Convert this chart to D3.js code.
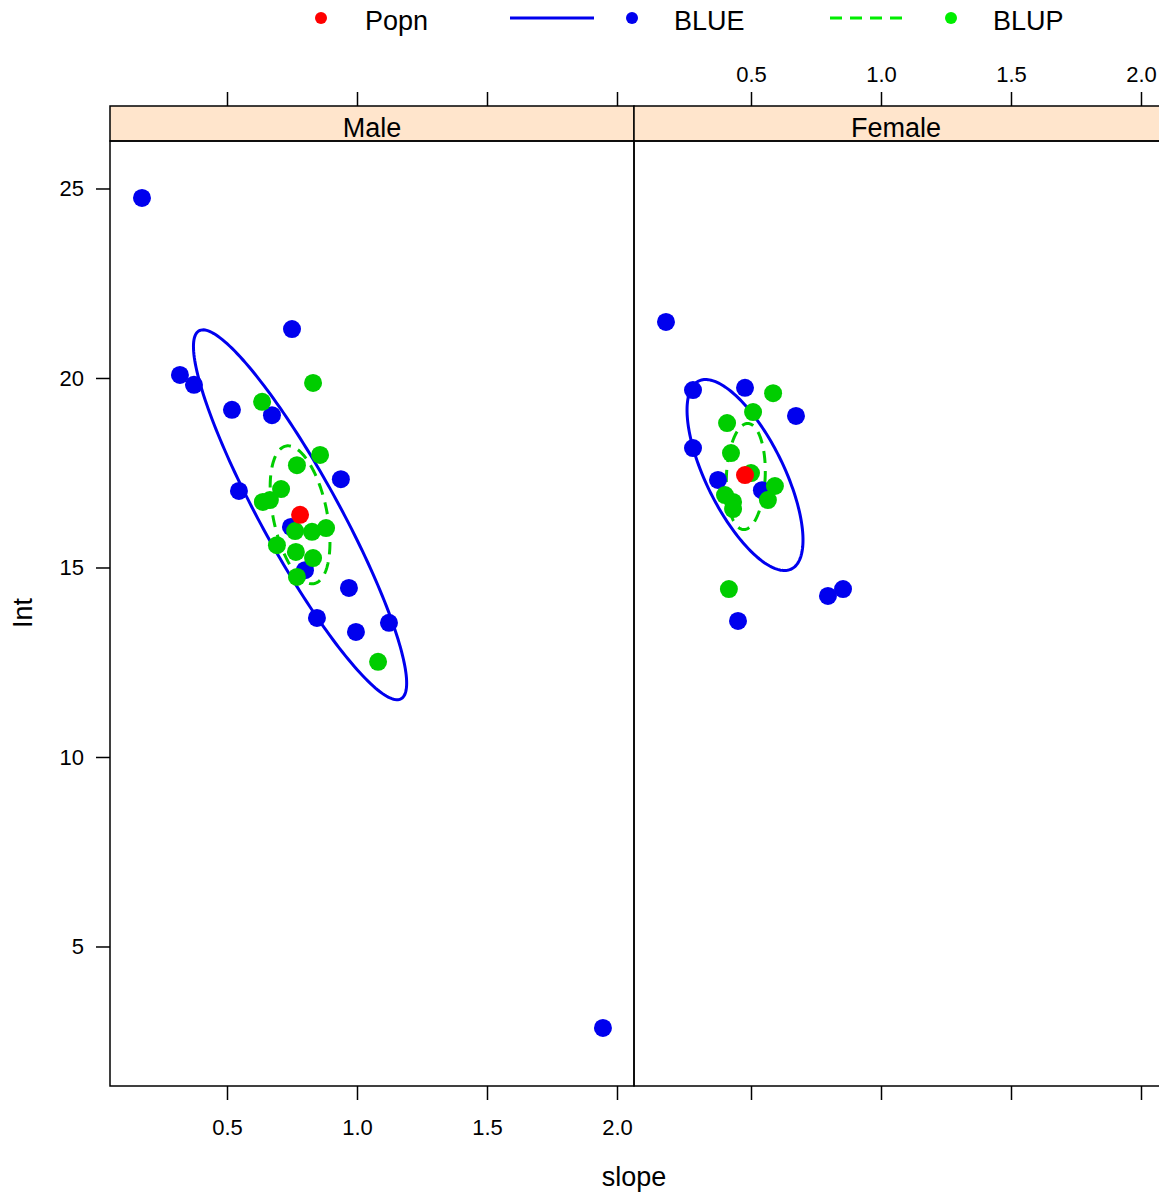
<!DOCTYPE html>
<html><head><meta charset="utf-8">
<script src="https://cdn.jsdelivr.net/npm/d3@7"></script>
<style>
html,body{margin:0;padding:0;background:#fff;overflow:hidden;}
svg{display:block;font-family:"Liberation Sans",Arial,sans-serif;}
</style></head>
<body>
<script>
// ---------------- data ----------------
const panels = ["Male", "Female"];
const xTicks = [0.5, 1.0, 1.5, 2.0];
const yTicks = [5, 10, 15, 20, 25];
const legendLabels = ["Popn", "BLUE", "BLUP"];

// [slope, Int]
const maleBLUE = [[0.173,24.75],[0.319,20.08],[0.373,19.82],[0.519,19.16],[0.673,19.02],
  [0.750,21.29],[0.546,17.02],[0.938,17.33],[0.746,16.07],[0.800,14.93],[0.969,14.46],
  [0.846,13.67],[0.996,13.30],[1.123,13.54],[1.946,2.85]];
const maleBLUP = [[0.635,19.37],[0.831,19.87],[0.858,17.97],[0.769,17.70],[0.708,17.07],
  [0.638,16.73],[0.665,16.78],[0.762,15.96],[0.827,15.94],[0.881,16.04],[0.692,15.59],
  [0.765,15.41],[0.831,15.25],[0.769,14.75],[1.081,12.51]];
const femaleBLUE = [[0.173,21.48],[0.277,19.68],[0.477,19.74],[0.673,19.00],[0.277,18.15],
  [0.373,17.31],[0.542,17.04],[0.796,14.25],[0.854,14.43],[0.450,13.59]];
const femaleBLUP = [[0.585,19.60],[0.508,19.10],[0.408,18.81],[0.423,18.02],[0.500,17.49],
  [0.592,17.15],[0.565,16.78],[0.400,16.91],[0.431,16.73],[0.431,16.54],[0.415,14.43]];
const popn = [[0.781,16.39],[0.477,17.44]];

// ellipse parameters: centre, half-extent in slope, half-extent in Int, correlation
const ellipseBLUE = [{cx:0.781,cy:16.39,hx:0.410,hy:4.88,rho:-0.91},
                     {cx:0.477,cy:17.44,hx:0.223,hy:2.52,rho:-0.68}];
const ellipseBLUP = [{cx:0.781,cy:16.39,hx:0.115,hy:1.82,rho:-0.40},
                     {cx:0.480,cy:17.40,hx:0.075,hy:1.40,rho:0.10}];

// ---------------- layout ----------------
const W = 1159, H = 1192;
const colRed = "#ff0000", colBlue = "#0000ee", colGreen = "#00cd00";
const panelW = 524, panelTop = 141, panelBot = 1086, stripTop = 106;
const panelX0 = [110, 634];
const boxW = [524, 530]; // right panel border lies just outside the picture

const svg = d3.select("body").append("svg").attr("width", W).attr("height", H);

const x = d3.scaleLinear().domain([0.05, 2.0654]).range([0, panelW]);
const y = d3.scaleLinear().domain([1.319, 26.253]).range([panelBot, panelTop]);
const fmt = d3.format(".1f");

function ellipsePts(e) {
  const d = Math.acos(e.rho), pts = [];
  for (let i = 0; i <= 200; i++) {
    const t = 2 * Math.PI * i / 200;
    pts.push([e.cx + e.hx * Math.cos(t), e.cy + e.hy * Math.cos(t + d)]);
  }
  return pts;
}

const blueSets = [maleBLUE, femaleBLUE], blupSets = [maleBLUP, femaleBLUP];

panels.forEach((name, i) => {
  const g = svg.append("g").attr("transform", `translate(${panelX0[i]},0)`);
  // strip
  g.append("rect").attr("x", 0).attr("y", stripTop).attr("width", boxW[i])
    .attr("height", panelTop - stripTop).attr("fill", "#ffe5cc")
    .attr("stroke", "#000").attr("stroke-width", 1.5);
  g.append("text").attr("x", panelW / 2).attr("y", 137).attr("text-anchor", "middle")
    .attr("font-size", 27).text(name);

  // clip
  const cid = "clip" + i;
  svg.append("clipPath").attr("id", cid).append("rect")
    .attr("x", 0).attr("y", panelTop).attr("width", boxW[i]).attr("height", panelBot - panelTop);
  const pg = g.append("g").attr("clip-path", `url(#${cid})`);

  const line = d3.line().x(d => x(d[0])).y(d => y(d[1])).curve(d3.curveLinearClosed);
  pg.append("path").attr("d", line(ellipsePts(ellipseBLUE[i])))
    .attr("fill", "none").attr("stroke", colBlue).attr("stroke-width", 3);
  pg.append("path").attr("d", line(ellipsePts(ellipseBLUP[i])))
    .attr("fill", "none").attr("stroke", colGreen).attr("stroke-width", 3)
    .attr("stroke-dasharray", "12,8");

  pg.selectAll(".blue").data(blueSets[i]).enter().append("circle")
    .attr("cx", d => x(d[0])).attr("cy", d => y(d[1])).attr("r", 9).attr("fill", colBlue);
  pg.selectAll(".blup").data(blupSets[i]).enter().append("circle")
    .attr("cx", d => x(d[0])).attr("cy", d => y(d[1])).attr("r", 9).attr("fill", colGreen);
  pg.append("circle").attr("cx", x(popn[i][0])).attr("cy", y(popn[i][1])).attr("r", 9)
    .attr("fill", colRed);

  // panel box
  g.append("rect").attr("x", 0).attr("y", panelTop).attr("width", boxW[i])
    .attr("height", panelBot - panelTop).attr("fill", "none")
    .attr("stroke", "#000").attr("stroke-width", 1.5);

  // bottom axis
  const bottom = d3.axisBottom(x).tickValues(xTicks).tickSize(14).tickPadding(19)
    .tickFormat(i === 0 ? fmt : () => "");
  const ba = g.append("g").attr("transform", `translate(0,${panelBot})`).call(bottom);
  // top axis
  const top = d3.axisTop(x).tickValues(xTicks).tickSize(14).tickPadding(10)
    .tickFormat(i === 1 ? fmt : () => "");
  const ta = g.append("g").attr("transform", `translate(0,${stripTop})`).call(top);
  [ba, ta].forEach(a => {
    a.select(".domain").remove();
    a.selectAll("line").attr("stroke", "#000").attr("stroke-width", 1.5);
    a.selectAll("text").attr("font-size", 22).attr("font-family", "Liberation Sans, Arial, sans-serif")
      .attr("fill", "#000");
  });
});

// left axis
const la = svg.append("g").attr("transform", `translate(${panelX0[0]},0)`)
  .call(d3.axisLeft(y).tickValues(yTicks).tickSize(14).tickPadding(12).tickFormat(d3.format("d")));
la.select(".domain").remove();
la.selectAll("line").attr("stroke", "#000").attr("stroke-width", 1.5);
la.selectAll("text").attr("font-size", 22).attr("font-family", "Liberation Sans, Arial, sans-serif")
  .attr("fill", "#000");

// axis titles
svg.append("text").attr("x", 634).attr("y", 1186).attr("text-anchor", "middle")
  .attr("font-size", 27).text("slope");
svg.append("text").attr("transform", "translate(32,613) rotate(-90)")
  .attr("text-anchor", "middle").attr("font-size", 27).text("Int");

// legend
const lg = svg.append("g");
lg.append("circle").attr("cx", 321).attr("cy", 18).attr("r", 6).attr("fill", colRed);
lg.append("text").attr("x", 365).attr("y", 30).attr("font-size", 27).text(legendLabels[0]);
lg.append("line").attr("x1", 510).attr("x2", 594).attr("y1", 18).attr("y2", 18)
  .attr("stroke", colBlue).attr("stroke-width", 3);
lg.append("circle").attr("cx", 632).attr("cy", 18).attr("r", 6).attr("fill", colBlue);
lg.append("text").attr("x", 674).attr("y", 30).attr("font-size", 27).text(legendLabels[1]);
lg.append("line").attr("x1", 830).attr("x2", 905).attr("y1", 18).attr("y2", 18)
  .attr("stroke", "#00ee00").attr("stroke-width", 3).attr("stroke-dasharray", "12,8");
lg.append("circle").attr("cx", 951).attr("cy", 18).attr("r", 6).attr("fill", "#00ee00");
lg.append("text").attr("x", 993).attr("y", 30).attr("font-size", 27).text(legendLabels[2]);
</script>
</body></html>
